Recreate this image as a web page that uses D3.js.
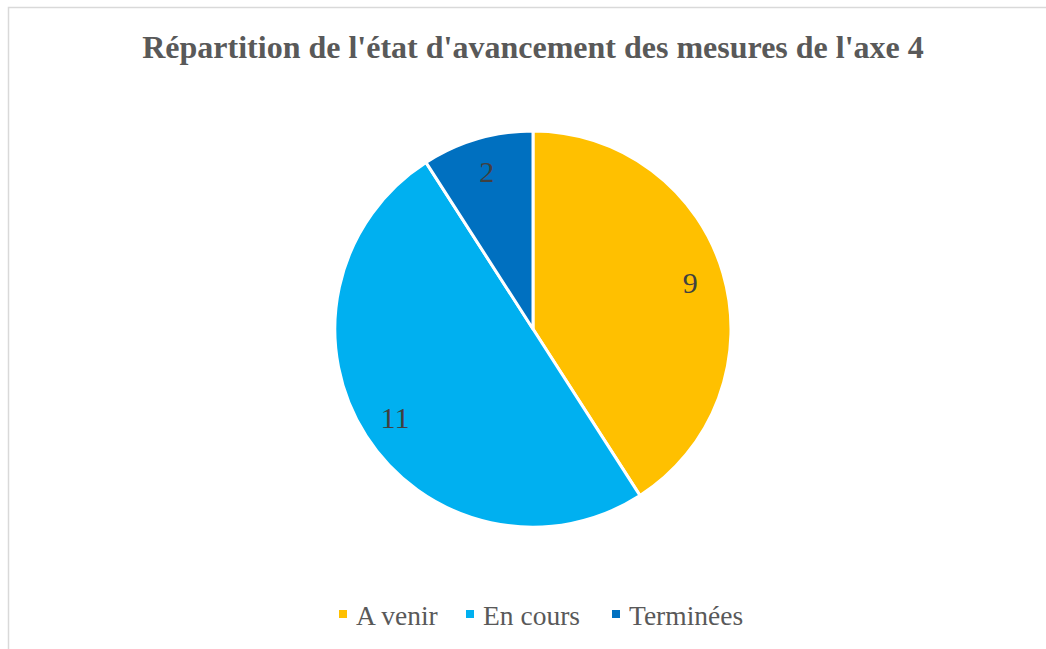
<!DOCTYPE html>
<html>
<head>
<meta charset="utf-8">
<script src="https://cdn.jsdelivr.net/npm/d3@7"></script>
<style>
  html, body { margin: 0; padding: 0; background: #fff; }
  svg { display: block; }
  svg text { font-family: "Liberation Serif", "Times New Roman", serif; }
</style>
</head>
<body>
<svg id="chart" width="1046" height="649"></svg>
<script>
// Avancement des mesures de l'axe 4
const categories = ["A venir", "En cours", "Terminées"];
const values = [9, 11, 2];
const colors = ["#FFC000", "#00B0F0", "#0070C0"];
const title = "Répartition de l'état d'avancement des mesures de l'axe 4";

const svg = d3.select("#chart");
const W = 1046, H = 649;

// chart area frame
svg.append("rect")
  .attr("x", 8.5).attr("y", 7.5)
  .attr("width", W + 10).attr("height", H + 10)
  .attr("fill", "#fff")
  .attr("stroke", "#d9d9d9")
  .attr("stroke-width", 1.5);

svg.append("text")
  .attr("x", 533).attr("y", 58)
  .attr("text-anchor", "middle")
  .style("font-weight", "bold")
  .style("font-size", "32px")
  .attr("fill", "#595959")
  .text(title);

const cx = 533, cy = 329, R = 198;
const data = categories.map((c, i) => ({ cat: c, value: values[i], color: colors[i] }));

const pie = d3.pie().value(d => d.value).sort(null);
const arc = d3.arc().innerRadius(0).outerRadius(R);
const labelArc = d3.arc().innerRadius(164).outerRadius(164);

const g = svg.append("g").attr("transform", `translate(${cx},${cy})`);
const arcs = pie(data);

g.selectAll("path").data(arcs).join("path")
  .attr("d", arc)
  .attr("fill", d => d.data.color)
  .attr("stroke", "#fff")
  .attr("stroke-width", 3)
  .attr("stroke-linejoin", "round");

g.selectAll("text.lbl").data(arcs).join("text")
  .attr("class", "lbl")
  .attr("transform", d => `translate(${labelArc.centroid(d)})`)
  .attr("text-anchor", "middle")
  .attr("dy", "0.35em")
  .style("font-size", "30px")
  .attr("fill", "#404040")
  .text(d => d.data.value);

// legend
const legendX = [339, 466, 612];
const legend = svg.append("g");
data.forEach((d, i) => {
  legend.append("rect")
    .attr("x", legendX[i]).attr("y", 610)
    .attr("width", 8).attr("height", 8)
    .attr("fill", d.color);
  legend.append("text")
    .attr("x", legendX[i] + 17).attr("y", 625)
    .style("font-size", "27.5px")
    .attr("fill", "#595959")
    .text(d.cat);
});
</script>
</body>
</html>
